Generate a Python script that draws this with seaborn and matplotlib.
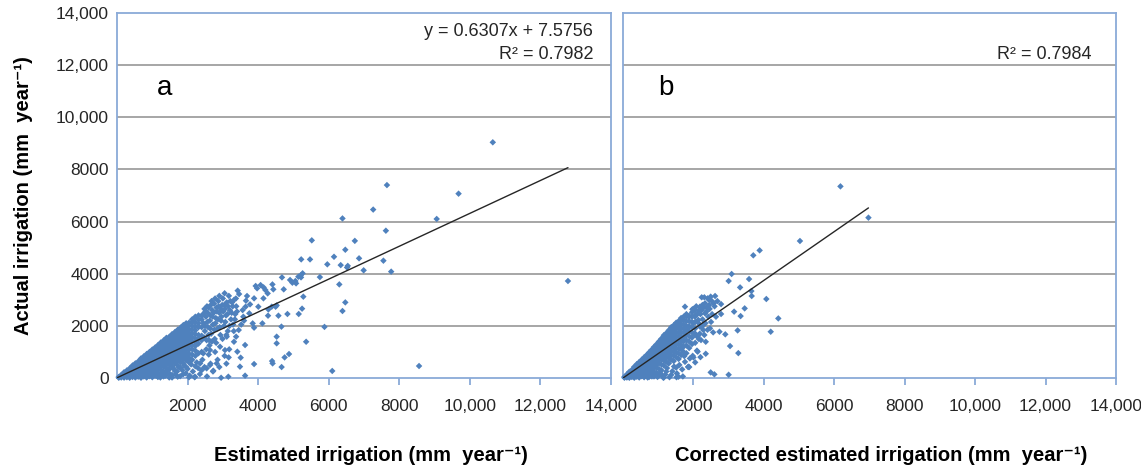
import numpy as np
import pandas as pd
import seaborn as sns
import matplotlib.pyplot as plt

# ---------------- panel a: estimated vs actual irrigation (mm/yr) ----------------
# dense wedge near the origin: (estimated, [actual values in that column])
wedge_a = [
    (50, [10, 40]),
    (120, [20, 70, 120]),
    (200, [15, 90, 160, 220]),
    (280, [30, 120, 200, 290]),
    (360, [10, 100, 190, 280, 370]),
    (440, [40, 140, 230, 330, 430, 480]),
    (520, [20, 110, 210, 300, 400, 490, 560]),
    (600, [50, 150, 250, 350, 440, 540, 630]),
    (680, [10, 120, 220, 320, 420, 510, 610, 700, 750]),
    (760, [60, 170, 270, 380, 480, 580, 680, 780, 830]),
    (840, [20, 130, 240, 340, 450, 550, 650, 760, 860, 920]),
    (920, [70, 190, 300, 410, 510, 620, 720, 830, 930, 1000]),
    (1000, [30, 150, 270, 380, 480, 590, 700, 800, 910, 1010, 1090]),
    (1080, [90, 220, 350, 460, 570, 680, 780, 880, 990, 1090, 1170]),
    (1160, [40, 180, 320, 430, 540, 650, 760, 860, 970, 1070, 1170, 1260]),
    (1240, [130, 300, 450, 560, 670, 780, 880, 990, 1100, 1200, 1300, 1360]),
    (1320, [60, 250, 420, 530, 640, 750, 860, 970, 1080, 1190, 1290, 1390, 1440]),
    (1400, [190, 380, 520, 630, 740, 850, 960, 1070, 1180, 1290, 1390, 1480, 1540]),
    (1480, [20, 330, 510, 620, 730, 840, 950, 1060, 1170, 1280, 1390, 1500, 1580]),
    (1560, [120, 440, 600, 710, 820, 930, 1040, 1150, 1260, 1370, 1480, 1590, 1680]),
    (1640, [270, 560, 680, 790, 900, 1010, 1120, 1230, 1340, 1450, 1560, 1670, 1760]),
    (1720, [50, 480, 650, 770, 880, 990, 1100, 1210, 1320, 1430, 1540, 1650, 1760, 1850]),
    (1800, [380, 610, 760, 870, 980, 1090, 1200, 1310, 1420, 1530, 1640, 1750, 1860, 1930]),
    (1880, [150, 560, 720, 850, 960, 1070, 1180, 1290, 1400, 1510, 1620, 1730, 1840, 1960, 2030]),
    (1960, [420, 680, 820, 950, 1070, 1190, 1310, 1430, 1550, 1670, 1790, 1910, 2030, 2100]),
    (2040, [30, 600, 780, 930, 1080, 1220, 1350, 1480, 1610, 1740, 1870, 2000, 2120]),
    (2130, [700, 900, 1100, 1250, 1400, 1550, 1700, 1850, 2000, 2150, 2250]),
    (2220, [450, 850, 1050, 1230, 1380, 1520, 1680, 1830, 1970, 2120, 2270, 2350]),
    (2310, [950, 1320, 1500, 1650, 1950, 2100, 2250, 2400]),
    (2400, [300, 1000, 1450, 1620, 1950, 2240, 2380]),
]

# looser cloud above the fit line
mid_a = [
    (2490, 1800), (2510, 2560), (2540, 1450), (2560, 2150), (2580, 1950),
    (2600, 2700), (2620, 1250), (2650, 2400), (2670, 1700), (2700, 2600),
    (2720, 2050), (2750, 2850), (2770, 1500), (2800, 2300), (2820, 2700),
    (2850, 1900), (2870, 2950), (2900, 2500), (2930, 1650), (2950, 2200),
    (2980, 2800), (3000, 3050), (3030, 2000), (3060, 2650), (3090, 2400),
    (3110, 2900), (3140, 1800), (3170, 3150), (3200, 2600), (3230, 2250),
    (3260, 2900), (3290, 2050), (3320, 3000), (3350, 2450), (3380, 2750),
    (2450, 2100), (2470, 1550), (2520, 2350), (2530, 1100), (2570, 2500),
    (2590, 1650), (2630, 2200), (2640, 1900), (2660, 2800), (2690, 1400),
    (2710, 2350), (2740, 2500), (2760, 1850), (2790, 2100), (2810, 1350),
    (2830, 2550), (2860, 2250), (2880, 2750), (2910, 1950), (2940, 2650),
    (2960, 2350), (2990, 1500), (3010, 2550), (3040, 2800), (3070, 2150),
    (3100, 1650), (3130, 2450), (3150, 2750), (3190, 2000), (3210, 2950),
    (3250, 2500), (3280, 2750), (3310, 1800), (3340, 2250), (3370, 3050),
    (3400, 2550), (2480, 2650), (2550, 2750), (2680, 2950), (2900, 3150),
    (3050, 3250), (2780, 3050), (2440, 2450), (2500, 2000), (2610, 1450),
    (3420, 3350), (3460, 3220), (3685, 3145), (3655, 2965), (3770, 2825),
    (3645, 2735), (3560, 2605), (3885, 3055), (3930, 3530), (3970, 3440),
    (4070, 3565), (4155, 3475), (4205, 3375), (4270, 3245), (4150, 3055),
    (4005, 2735), (4290, 2630), (4385, 2735), (4495, 2735), (4405, 3590),
    (4430, 3400), (4525, 2785), (4575, 2390), (4675, 3860), (4725, 3400),
    (4830, 2455), (4905, 3760), (4970, 3655), (5055, 3720), (5075, 3630),
    (5140, 3885), (5205, 3935), (5260, 4015), (5215, 3860), (5280, 3120),
    (5245, 2660), (5150, 2455), (5750, 3870), (3750, 2480), (3580, 2350),
    (3845, 2095), (4120, 2095), (4280, 2390), (3885, 1930), (3450, 1840),
    (3375, 1585), (3315, 1390), (3110, 1585), (3520, 2050), (3600, 2200),
]

# sparse points below the main wedge
below_a = [
    (1150, 60), (1230, 20), (1290, 180), (1370, 90), (1420, 300), (1500, 150),
    (1560, 20), (1610, 360), (1660, 130), (1700, 250), (1750, 420), (1790, 70),
    (1850, 300), (1900, 480), (1950, 180), (2000, 350), (2060, 90), (2100, 520),
    (2150, 250), (2200, 30), (2260, 600), (2300, 380), (2350, 150), (2420, 700),
    (2480, 420), (2550, 60), (2600, 900), (2650, 550), (2720, 250), (2780, 1000),
    (2850, 700), (2900, 420), (2950, 10), (3050, 850), (3100, 550), (3180, 1100),
    (3060, 1070), (3410, 1010), (3505, 780), (3630, 1265), (3165, 790), (2825, 560),
    (2635, 495), (2730, 280), (2540, 370), (2355, 560), (2445, 945), (2635, 1070),
    (2920, 1200), (3155, 50), (2210, 50), (3485, 435), (3630, 90), (3885, 535),
    (4395, 650), (4410, 560), (4665, 420), (4750, 790), (4875, 920), (4525, 1330),
    (4525, 1585), (4660, 1970),
]

# isolated points far from the cloud
outliers_a = [
    (10650, 9040), (7650, 7400), (9680, 7070), (7260, 6460), (6390, 6120),
    (9060, 6100), (7620, 5650), (5520, 5280), (6740, 5260), (6470, 4920),
    (6150, 4650), (6860, 4590), (5220, 4550), (5470, 4550), (5960, 4360),
    (6340, 4330), (6540, 4300), (6520, 4240), (7550, 4500), (6990, 4130),
    (7770, 4080), (6300, 3590), (6470, 2900), (6390, 2570), (5880, 1960),
    (5360, 1390), (6100, 270), (8560, 460), (12780, 3720),
]

# ---------------- panel b: corrected estimate vs actual ----------------
wedge_b = [
    (40, [10, 45]),
    (110, [20, 80, 140]),
    (180, [10, 90, 170, 240]),
    (250, [40, 130, 220, 310]),
    (320, [10, 100, 190, 280, 370, 430]),
    (390, [50, 150, 250, 350, 450, 530]),
    (460, [20, 120, 220, 320, 420, 520, 610]),
    (530, [70, 180, 290, 400, 500, 600, 700]),
    (600, [30, 150, 270, 380, 490, 600, 700, 790]),
    (670, [90, 220, 340, 460, 570, 680, 790, 880]),
    (740, [40, 180, 320, 440, 560, 680, 790, 900, 980]),
    (810, [130, 280, 410, 540, 660, 780, 900, 1010, 1080]),
    (880, [60, 240, 400, 530, 660, 780, 900, 1020, 1120, 1190]),
    (950, [200, 390, 530, 660, 790, 910, 1030, 1150, 1250, 1290]),
    (1020, [100, 350, 560, 700, 830, 960, 1080, 1200, 1320, 1400]),
    (1090, [300, 520, 700, 830, 960, 1090, 1220, 1340, 1450, 1510]),
    (1160, [20, 480, 680, 820, 960, 1100, 1230, 1360, 1480, 1580, 1640]),
    (1230, [250, 620, 800, 940, 1080, 1220, 1360, 1490, 1610, 1720]),
    (1300, [560, 760, 920, 1060, 1210, 1350, 1490, 1620, 1740, 1830]),
    (1370, [120, 700, 880, 1030, 1180, 1330, 1470, 1610, 1740, 1870, 1950]),
    (1440, [650, 850, 1010, 1160, 1310, 1460, 1600, 1740, 1880, 2020]),
    (1510, [400, 800, 980, 1140, 1300, 1450, 1600, 1740, 1890, 2040, 2120]),
    (1580, [730, 950, 1120, 1280, 1440, 1600, 1750, 1900, 2050, 2180]),
    (1650, [880, 1100, 1270, 1430, 1590, 1750, 1900, 2060, 2210, 2300]),
    (1720, [1000, 1200, 1400, 1570, 1740, 1900, 2060, 2220, 2350]),
    (1800, [950, 1250, 1450, 1650, 1830, 2000, 2180, 2350, 2450]),
    (1880, [1150, 1400, 1600, 1800, 1990, 2180, 2380]),
    (1960, [1300, 1550, 1750, 1950, 2150, 2350, 2520]),
    (2050, [1350, 1650, 1900, 2150, 2400, 2600]),
    (2150, [1500, 2100, 2600]),
]

mid_b = [
    (2235, 3095), (2310, 3095), (2405, 3055), (2450, 2990), (2520, 2955),
    (2615, 3145), (2330, 2865), (2255, 2800), (2185, 2735), (2450, 2800),
    (2490, 3120), (2575, 2865), (1760, 2735), (1970, 2635), (2045, 2350),
    (2330, 2480), (2140, 2225), (1875, 2350), (2000, 2095), (2185, 1970),
    (2045, 1710), (2280, 1840), (1835, 1905), (2120, 1585), (2215, 1455),
    (2350, 1390), (2470, 1905), (2250, 2000), (2230, 2600), (2380, 2700),
    (2180, 1700), (2200, 2450), (2230, 1950), (2260, 2250), (2290, 2700),
    (2310, 1650), (2340, 2100), (2370, 2550), (2400, 1850), (2420, 2350),
    (2460, 2650), (2500, 2150), (2530, 2450), (2560, 1750), (2600, 2750),
    (2640, 2350), (2680, 2950), (2110, 2450), (2080, 2750), (2000, 2650),
]

below_b = [
    (700, 20), (820, 60), (900, 150), (980, 40), (1050, 200), (1120, 90),
    (1200, 130), (1250, 380), (1320, 30), (1400, 260), (1450, 440), (1530, 180),
    (1600, 500), (1680, 330), (1700, 60), (1760, 620), (1850, 420), (1900, 750),
    (1980, 850), (2050, 600), (2100, 1050), (2200, 800), (1575, 50), (1520, 30),
    (1145, 10), (2000, 790), (1740, 840), (1855, 435), (1880, 420),
]

outliers_b = [
    (6175, 7350), (6970, 6150), (5025, 5255), (3700, 4705), (3880, 4895),
    (3085, 3990), (3000, 3720), (3580, 3795), (3325, 3475), (3645, 3335),
    (3655, 3145), (4070, 3030), (3455, 2670), (3155, 2545), (3340, 2375),
    (4410, 2285), (2785, 2455), (2785, 2835), (2905, 1675), (2740, 1775),
    (3255, 1825), (4195, 1775), (3040, 1225), (3275, 955), (2350, 930),
    (2120, 1010), (2490, 215), (2595, 140), (3000, 125),
]

# trend lines as reported on the chart (b slope)
slope_a, intercept_a, r2_a = 0.6307, 7.5756, 0.7982
slope_b, intercept_b, r2_b = 0.936, 0.0, 0.7984

axis_ticks = [2000, 4000, 6000, 8000, 10000, 12000, 14000]
x_tick_labels = ['2000', '4000', '6000', '8000', '10,000', '12,000', '14,000']
y_ticks = [0, 2000, 4000, 6000, 8000, 10000, 12000, 14000]
y_tick_labels = ['0', '2000', '4000', '6000', '8000', '10,000', '12,000', '14,000']


def to_frame(columns, *groups):
    xs, ys = [], []
    for x, col in columns:
        xs += [x] * len(col)
        ys += col
    for group in groups:
        for x, y in group:
            xs.append(x)
            ys.append(y)
    return pd.DataFrame({'est': xs, 'act': ys})


sns.set_theme(style='white')
plt.rcParams['font.family'] = ['Liberation Sans', 'DejaVu Sans']

point_blue = '#4F81BD'
frame_blue = '#8AAAD8'
text_col = '#262626'

fig = plt.figure(figsize=(11.41, 4.69), dpi=100)
ax_a = fig.add_axes([117 / 1141, 91 / 469, 494 / 1141, 365 / 469])
ax_b = fig.add_axes([623 / 1141, 91 / 469, 493 / 1141, 365 / 469])

panels = [
    (ax_a, to_frame(wedge_a, mid_a, below_a, outliers_a), slope_a, intercept_a, 'a',
     'Estimated irrigation (mm  year\u207b\u00b9)'),
    (ax_b, to_frame(wedge_b, mid_b, below_b, outliers_b), slope_b, intercept_b, 'b',
     'Corrected estimated irrigation (mm  year\u207b\u00b9)'),
]

for ax, df, slope, intercept, letter, xlabel in panels:
    ax.set_xlim(0, 14000)
    ax.set_ylim(0, 14000)
    for g in y_ticks[1:-1]:
        ax.axhline(g, color='#A6A6A6', lw=1.4, zorder=1)
    sns.scatterplot(data=df, x='est', y='act', ax=ax, marker='D', s=11,
                    color=point_blue, edgecolor='none', linewidth=0,
                    zorder=3, clip_on=False)
    xfit = np.array([0, df['est'].max()])
    ax.plot(xfit, slope * xfit + intercept, color='#262626', lw=1.0, zorder=4)

    for sp in ax.spines.values():
        sp.set_color(frame_blue)
        sp.set_linewidth(1.3)
        sp.set_visible(True)
    ax.set_xticks(axis_ticks)
    ax.set_xticklabels(x_tick_labels)
    ax.tick_params(axis='x', direction='out', length=5, width=1.3, color=frame_blue,
                   labelsize=12.5, labelcolor=text_col, pad=10, bottom=True)
    ax.text(0.097 if letter == 'a' else 0.087, 0.795, letter, transform=ax.transAxes,
            fontsize=20, color='black', ha='center', va='center')
    ax.set_xlabel(xlabel, fontsize=14.5, fontweight='bold', color='black')

ax_a.set_yticks(y_ticks)
ax_a.set_yticklabels(y_tick_labels)
ax_a.tick_params(axis='y', length=0, labelsize=12.5, labelcolor=text_col, pad=6)
ax_a.set_ylabel('Actual irrigation (mm  year\u207b\u00b9)', fontsize=14.5,
                fontweight='bold', color='black')
ax_a.yaxis.set_label_coords(-0.17, 0.5)
ax_b.set_yticks(y_ticks)
ax_b.set_yticklabels([])
ax_b.tick_params(axis='y', length=0)
ax_b.set_ylabel('')

ax_a.xaxis.set_label_coords(0.514, -0.185)
ax_b.xaxis.set_label_coords(0.523, -0.185)

ax_a.text(0.964, 0.95, f'y = {slope_a}x + {intercept_a}', transform=ax_a.transAxes,
          ha='right', va='center', fontsize=13, color=text_col)
ax_a.text(0.964, 0.887, f'R\u00b2 = {r2_a}', transform=ax_a.transAxes,
          ha='right', va='center', fontsize=13, color=text_col)
ax_b.text(0.95, 0.887, f'R\u00b2 = {r2_b}', transform=ax_b.transAxes,
          ha='right', va='center', fontsize=13, color=text_col)

plt.savefig('out.png', dpi=100)
plt.close()
